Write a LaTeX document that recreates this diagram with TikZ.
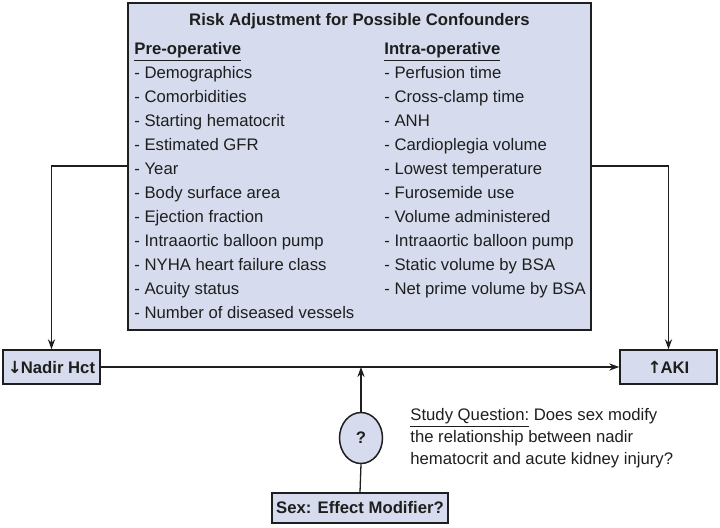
\documentclass[tikz,border=0pt]{standalone}
\usepackage{fontspec}
\setmainfont{Liberation Sans}
\newfontfamily\arrowfont{DejaVu Sans}
\usetikzlibrary{arrows.meta,shapes.geometric}
\definecolor{boxfill}{RGB}{214,220,237}
\definecolor{ink}{RGB}{30,30,30}
\begin{document}
\begin{tikzpicture}[x=0.5pt,y=-0.5pt,
  every node/.style={font=\fontsize{8.35pt}{10pt}\selectfont, text=ink},
  box/.style={draw=ink, line width=0.75pt, fill=boxfill, inner sep=0pt},
  item/.style={anchor=base west, inner sep=0pt},
  conn/.style={draw=ink, line width=0.65pt},
  arr/.style={conn, -{Stealth[length=5pt,width=3.6pt]}}]
\useasboundingbox (0,0) rectangle (720,527);

% main confounder box
\node[box, minimum width=231.5pt, minimum height=163.5pt] (conf) at (359.5,166.5) {};
\node[anchor=base, inner sep=0pt, font=\fontsize{8.35pt}{10pt}\selectfont\bfseries] (title) at (359.5,25) {Risk Adjustment for Possible Confounders};
\node[item, font=\fontsize{8.35pt}{10pt}\selectfont\bfseries] (pre) at (134,54) {\underline{Pre-operative}};
\node[item, font=\fontsize{8.35pt}{10pt}\selectfont\bfseries] (intra) at (384,54) {\underline{Intra-operative}};

\node[item] (p1) at (134,78) {- Demographics};
\node[item] (p2) at (134,102) {- Comorbidities};
\node[item] (p3) at (134,126) {- Starting hematocrit};
\node[item] (p4) at (134,150) {- Estimated GFR};
\node[item] (p5) at (134,174) {- Year};
\node[item] (p6) at (134,198) {- Body surface area};
\node[item] (p7) at (134,222) {- Ejection fraction};
\node[item] (p8) at (134,246) {- Intraaortic balloon pump};
\node[item] (p9) at (134,270) {- NYHA heart failure class};
\node[item] (p10) at (134,294) {- Acuity status};
\node[item] (p11) at (134,318) {- Number of diseased vessels};

\node[item] (i1) at (384,78) {- Perfusion time};
\node[item] (i2) at (384,102) {- Cross-clamp time};
\node[item] (i3) at (384,126) {- ANH};
\node[item] (i4) at (384,150) {- Cardioplegia volume};
\node[item] (i5) at (384,174) {- Lowest temperature};
\node[item] (i6) at (384,198) {- Furosemide use};
\node[item] (i7) at (384,222) {- Volume administered};
\node[item] (i8) at (384,246) {- Intraaortic balloon pump};
\node[item] (i9) at (384,270) {- Static volume by BSA};
\node[item] (i10) at (384,294) {- Net prime volume by BSA};

% outcome boxes
\node[box, minimum width=48.5pt, minimum height=17pt, font=\fontsize{8.35pt}{10pt}\selectfont\bfseries] (nadir) at (51.5,367) {{\arrowfont\bfseries ↓}\kern-0.5pt Nadir Hct};
\node[box, minimum width=48.5pt, minimum height=17pt, font=\fontsize{8.35pt}{10pt}\selectfont\bfseries] (aki) at (668.5,367) {{\arrowfont\bfseries ↑}\kern-0.5pt AKI};

% effect modifier
\node[box, ellipse, minimum width=21.5pt, minimum height=25.5pt, font=\fontsize{8.35pt}{10pt}\selectfont\bfseries] (q) at (361,438) {?};
\node[box, minimum width=88pt, minimum height=15pt, font=\fontsize{8.35pt}{10pt}\selectfont\bfseries] (sex) at (360,508) {Sex: Effect Modifier?};

% study question
\node[item] (sq1) at (410,420) {\underline{Study Question:} Does sex modify};
\node[item] (sq2) at (410,442) {the relationship between nadir};
\node[item] (sq3) at (410,464) {hematocrit and acute kidney injury?};

% connectors
\coordinate (lj) at (52,166);
\coordinate (rj) at (669,166);
\draw[arr] (conf.west |- lj) -| (nadir.north);
\draw[arr] (conf.east |- rj) -| (aki.north);
\draw[arr] (nadir.east) -- (aki.west);
\draw[arr] (q.north) -- (q.north |- nadir.east);
\draw[conn] (sex.north) -- (q.south);
\end{tikzpicture}
\end{document}
